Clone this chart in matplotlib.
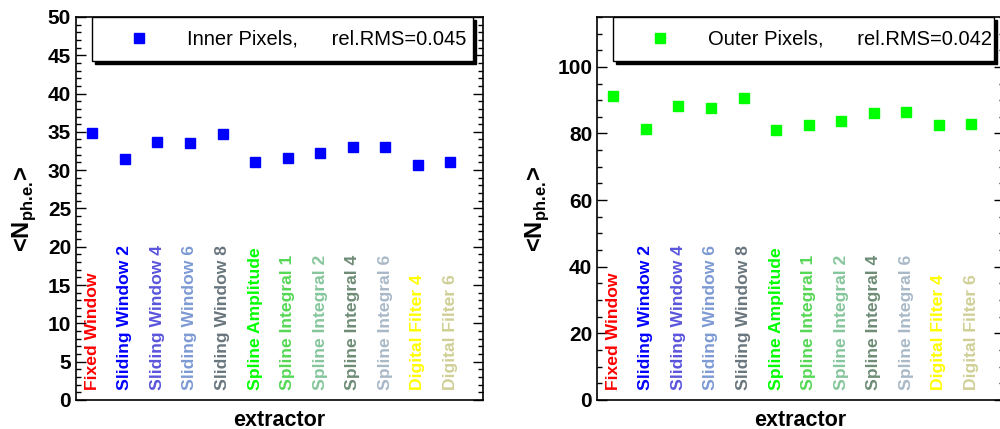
import numpy as np
import matplotlib
matplotlib.use('Agg')
import matplotlib.pyplot as plt
from matplotlib.lines import Line2D
from matplotlib.ticker import MultipleLocator

plt.rcParams['font.family'] = ['Liberation Sans', 'DejaVu Sans']
plt.rcParams['mathtext.fontset'] = 'custom'
plt.rcParams['mathtext.rm'] = 'Liberation Sans'
plt.rcParams['mathtext.bf'] = 'Liberation Sans:bold'

# extractor names and their label colours
extractors = ['Fixed Window', 'Sliding Window 2', 'Sliding Window 4', 'Sliding Window 6',
              'Sliding Window 8', 'Spline Amplitude', 'Spline Integral 1', 'Spline Integral 2',
              'Spline Integral 4', 'Spline Integral 6', 'Digital Filter 4', 'Digital Filter 6']
label_colors = ['#ff0000', '#0000ff', '#5a55dc', '#7d9ad4', '#6a767e', '#00ff00',
                '#55d855', '#86c69c', '#6e8c76', '#a9b9c8', '#ffff00', '#cfcf96']

# mean number of photo-electrons
inner_nphe = [34.9, 31.5, 33.7, 33.6, 34.7, 31.0, 31.6, 32.2, 33.0, 33.0, 30.7, 31.0]
outer_nphe = [91.4, 81.3, 88.4, 87.7, 90.6, 81.1, 82.6, 83.7, 86.1, 86.5, 82.5, 82.8]
inner_rms = '0.045'
outer_rms = '0.042'


def draw_panel(ax, vals, color, name, rms, ymax, major, minor, ylab_x):
    xs = np.arange(len(vals))
    ax.plot(xs, vals, ls='none', marker='s', ms=7.8, color=color, mec=color)
    ax.set_xlim(-0.5, 12.0)
    ax.set_ylim(0, ymax)
    ax.set_xticks([])
    ax.yaxis.set_major_locator(MultipleLocator(major))
    ax.yaxis.set_minor_locator(MultipleLocator(minor))
    ax.tick_params(axis='y', which='both', direction='in', left=True, right=True,
                   width=1.0, labelsize=15, pad=3.5)
    ax.tick_params(axis='y', which='major', length=7.2)
    ax.tick_params(axis='y', which='minor', length=3.6)
    for lab in ax.get_yticklabels():
        lab.set_fontweight('bold')
    for sp in ax.spines.values():
        sp.set_linewidth(1.2)

    for x, txt, c in zip(xs, extractors, label_colors):
        ax.text(x, 0.026, txt, transform=ax.get_xaxis_transform(), rotation=90,
                ha='center', va='bottom', color=c, fontsize=12.6, fontweight='bold')

    ax.set_xlabel('extractor', fontsize=15.5, fontweight='bold', labelpad=7)
    # \! cancels the extra gap mathtext puts after periods
    ax.set_ylabel(r'<N$_{\mathbf{ph.\!e.\!}}$>', fontsize=17, fontweight='bold')
    ax.yaxis.set_label_coords(ylab_x, 0.5)

    handle = Line2D([], [], ls='none', marker='s', ms=7.8, color=color, mec=color)
    leg = ax.legend([handle], [name + ',      rel.RMS=' + rms], loc='upper left',
                    bbox_to_anchor=(0.0393, 0.0, 0.936, 1.0), mode='expand',
                    borderaxespad=0, borderpad=0.63, handlelength=3.4,
                    handletextpad=0.69, numpoints=1, fancybox=False,
                    shadow={'color': 'black', 'alpha': 1.0},
                    prop={'size': 14.5, 'weight': 'normal'})
    fr = leg.get_frame()
    fr.set_edgecolor('black')
    fr.set_linewidth(1.0)
    fr.set_facecolor('white')
    fr.set_alpha(1.0)


fig = plt.figure(figsize=(10, 4.29), dpi=100)
ax1 = fig.add_axes([0.076, 0.0676, 0.407, 0.893])
ax2 = fig.add_axes([0.597, 0.0676, 0.407, 0.893])

draw_panel(ax1, inner_nphe, '#0000ff', 'Inner Pixels', inner_rms, 50, 5, 1, -0.093)
draw_panel(ax2, outer_nphe, '#00ff00', 'Outer Pixels', outer_rms, 115, 20, 5, -0.113)

fig.savefig('out.png', dpi=100)
